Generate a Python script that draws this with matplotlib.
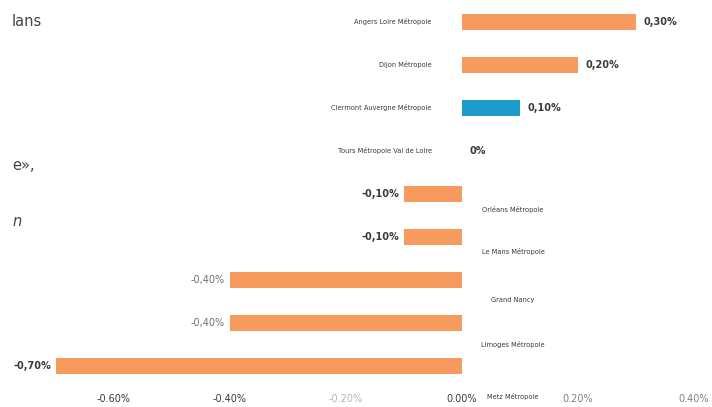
import matplotlib.pyplot as plt

# data
villes = ['Angers Loire Métropole', 'Dijon Métropole', 'Clermont Auvergne Métropole',
          'Tours Métropole Val de Loire', 'Orléans Métropole', 'Le Mans Métropole',
          'Grand Nancy', 'Limoges Métropole', 'Metz Métropole']
evolution = [0.30, 0.20, 0.10, 0.0, -0.10, -0.10, -0.40, -0.40, -0.70]
highlight = 'Clermont Auvergne Métropole'
xticks = [-0.6, -0.4, -0.2, 0.0, 0.2, 0.4]
xtick_labels = ['-0.60%', '-0.40%', '-0.20%', '0.00%', '0.20%', '0.40%']

orange = '#F79A5E'
blue = '#1B9BC8'
dark = '#3a3a3a'

fig = plt.figure(figsize=(7.12, 4.07), dpi=100)
bottom_px = 390
ax = fig.add_axes([0, (407 - bottom_px) / 407, 1, bottom_px / 407])

y = list(range(len(villes)))
colors = [blue if v == highlight else orange for v in villes]
ax.barh(y, evolution, height=0.35, color=colors)

ax.set_xlim(-462 / 580, 250 / 580)
ax.set_ylim((bottom_px - 22) / 43, -22 / 43)

for spine in ax.spines.values():
    spine.set_visible(False)
ax.set_yticks([])
ax.set_xticks(xticks)
ax.set_xticklabels(xtick_labels, fontsize=7)
ax.tick_params(axis='x', length=0, pad=3)
tick_colors = [dark, dark, '#b5b5b5', dark, '#808080', '#808080']
for lab, c in zip(ax.get_xticklabels(), tick_colors):
    lab.set_color(c)

# category labels: left of axis for positive, below bar on right for negative
neg_offsets = [0.37, 0.33, 0.47, 0.51, 0.72]
k = 0
for i, (v, val) in enumerate(zip(villes, evolution)):
    if val >= 0:
        ax.text(-0.052, i, v, ha='right', va='center', fontsize=4.8, color=dark)
    else:
        ax.text(0.088, i + neg_offsets[k], v, ha='center', va='center',
                fontsize=4.8, color=dark)
        k += 1

# data labels
for i, val in enumerate(evolution):
    txt = ('%.2f%%' % val).replace('.', ',') if val != 0 else '0%'
    weight = 'bold'
    col = dark
    if -0.6 < val <= -0.3:
        weight = 'normal'
        col = '#707070'
    if val >= 0:
        ax.text(val + 0.013, i, txt, ha='left', va='center', fontsize=7,
                fontweight=weight, color=col)
    else:
        ax.text(val - 0.009, i, txt, ha='right', va='center', fontsize=7,
                fontweight=weight, color=col)

# leftover text fragments from the page
fig.text(12 / 712, 1 - 22 / 407, 'lans', fontsize=10.5, color='#444444', va='center')
fig.text(12 / 712, 1 - 165 / 407, 'e»,', fontsize=10.5, color='#444444', va='center')
fig.text(12 / 712, 1 - 222 / 407, 'n', fontsize=10.5, color='#444444', va='center',
         style='italic')

fig.savefig('out.png', dpi=100)
